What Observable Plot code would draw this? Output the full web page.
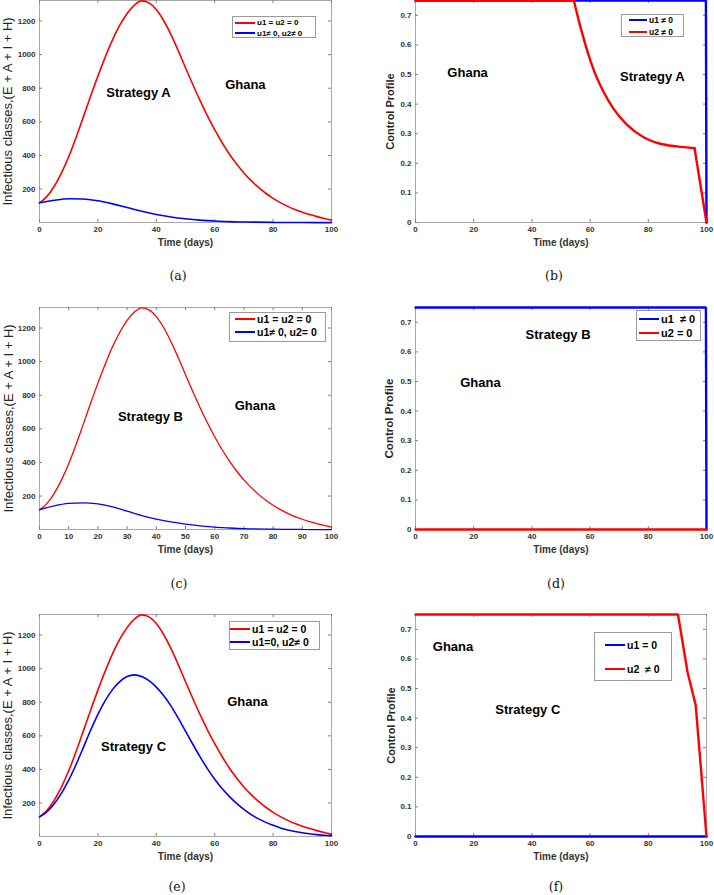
<!DOCTYPE html>
<html><head><meta charset="utf-8">
<script src="https://cdn.jsdelivr.net/npm/d3@7"></script>
<script src="https://cdn.jsdelivr.net/npm/@observablehq/plot@0.6"></script>
<style>
body{margin:0;background:#fff;width:714px;height:895px;position:relative;overflow:hidden;font-family:"Liberation Sans",Arial,sans-serif}
.panel{position:absolute}
.legend{position:absolute;border:1px solid #9a9a9a;background:#fff;box-sizing:border-box;font-weight:bold;color:#000}
.row{position:absolute;display:flex;align-items:center;white-space:pre}
.cap{position:absolute;font-family:"DejaVu Serif","Liberation Serif",serif;font-size:12.5px;transform:translate(-50%,-50%);color:#111}
</style>
</head><body>
<script>
// ---------- data ----------
const timeNoControl = [0,2.5,5,7.5,10,12.5,15,17.5,20,22.5,25,27.5,30,32.5,35,37.5,40,42.5,45,47.5,50,52.5,55,57.5,60,62.5,65,67.5,70,72.5,75,77.5,80,82.5,85,87.5,90,92.5,95,97.5,100];
const infNoControl  = [118,155,215,295,392,505,628,752,872,985,1088,1175,1245,1295,1320,1308,1268,1203,1120,1024,922,822,726,636,553,477,409,349,296,250,210,175,145,119,97,78,62,48,36,25,15];

const timeStratA = [0,5,10,15,20,25,30,35,40,45,50,55,60,65,70,80,90,100];
const infStratA  = [118,133,142,141,130,112,90,68,49,34,23,15,10,6,4,1.5,0.6,0.3];

const timeStratB = [0,5,10,15,20,25,30,35,40,45,50,55,60,65,70,80,90,100];
const infStratB  = [118,141,156,160,153,136,110,84,63,46,33,23,15,10,6,3,1.2,0.5];

const timeStratC = [0,2.5,5,7.5,10,12.5,15,17.5,20,22.5,25,27.5,30,32.5,35,37.5,40,42.5,45,47.5,50,52.5,55,57.5,60,62.5,65,67.5,70,72.5,75,77.5,80,82.5,85,87.5,90,92.5,95,97.5,100];
const infStratC  = [118,148,195,258,336,428,530,633,728,810,875,923,953,963,953,928,890,840,778,705,628,550,475,405,342,287,240,198,162,131,106,85,68,52,40,31,23,17,12,8,6];

// control profiles
const timeU1A = [0,99.8,100];
const u1A     = [0.75,0.75,0];
const timeU2A = [0,54.4,56.7,59,61.3,64.7,68.2,72.7,78.4,84.1,89.9,95.9,100];
const u2A     = [0.75,0.75,0.66,0.581,0.514,0.44,0.382,0.33,0.288,0.266,0.257,0.251,0];

const timeU1B = [0,99.8,100];
const u1B     = [0.75,0.75,0];
const timeU2B = [0,100];
const u2B     = [0,0];

const timeU1C = [0,100];
const u1C     = [0,0];
const timeU2C = [0,90.2,93.5,96.3,100];
const u2C     = [0.75,0.75,0.555,0.443,0];

const xTicks20 = [0,20,40,60,80,100];
const xTicks10 = [0,10,20,30,40,50,60,70,80,90,100];
const yTicksInf = [200,400,600,800,1000,1200];
const yTicksCtl = [0,0.1,0.2,0.3,0.4,0.5,0.6,0.7];

const notesA = [{x:33.9,y:771,text:"Strategy A"},{x:70.5,y:819,text:"Ghana"}];
const notesB = [{x:17.9,y:0.507,text:"Ghana"},{x:81.4,y:0.493,text:"Strategy A"}];
const notesC = [{x:38,y:673,text:"Strategy B"},{x:73.8,y:738,text:"Ghana"}];
const notesD = [{x:49,y:0.659,text:"Strategy B"},{x:22.3,y:0.497,text:"Ghana"}];
const notesE = [{x:32.2,y:533,text:"Strategy C"},{x:71.2,y:803,text:"Ghana"}];
const notesF = [{x:12.9,y:0.642,text:"Ghana"},{x:38.6,y:0.429,text:"Strategy C"}];

const RED = "#ff0000", BLUE = "#0000ff";
const H = 222, MT = 6, MB = 34, W = 357;

function toRows(t, v){ return t.map((d,i)=>({t:d, v:v[i]})); }

function makePanel(o){
  const ml = o.left === 0 ? 39 : 58;
  const mr = o.left === 0 ? 26 : 8;
  const fw = W - ml - mr;
  const marks = [
    Plot.frame({stroke:"#a8a8a8"}),
    Plot.tickX(o.xTicks, {x:d=>d, insetTop:H-3, stroke:"#808080"}),
    Plot.tickX(o.xTicks, {x:d=>d, insetBottom:H-3, stroke:"#808080"}),
    Plot.tickY(o.yTicks, {y:d=>d, insetRight:fw-3, stroke:"#808080"}),
    Plot.tickY(o.yTicks, {y:d=>d, insetLeft:fw-3, stroke:"#808080"}),
    Plot.axisX({ticks:o.xTicks, tickSize:0, tickPadding:4, fontSize:8, fontWeight:"bold", fill:"#333", label:null, tickFormat:d=>String(d)}),
    Plot.axisY({ticks:o.yTicks, tickSize:0, tickPadding:4, fontSize:8, fontWeight:"bold", fill:"#333", label:null, tickFormat:d=>String(d)}),
  ];
  for (const s of o.series) {
    const rows = toRows(s.t, s.v);
    if (s.smoothRange) {
      const [a, b] = s.smoothRange;
      const parts = [rows.filter(r=>r.t<=a), rows.filter(r=>r.t>=a && r.t<=b), rows.filter(r=>r.t>=b)];
      parts.forEach((p, k) => marks.push(Plot.line(p, {x:"t", y:"v", stroke:s.color, strokeWidth:s.width, curve: k===1 ? "monotone-x" : "linear", strokeLinejoin:"miter"})));
    } else {
      marks.push(Plot.line(rows, {x:"t", y:"v", stroke:s.color, strokeWidth:s.width, curve:s.curve || "linear", strokeLinejoin:"miter"}));
    }
  }
  marks.push(Plot.text(o.notes, {x:"x", y:"y", text:"text", fontSize:13, fontWeight:"bold", fill:"#000"}));
  marks.push(Plot.text(["Time (days)"], {text:d=>d, frameAnchor:"bottom", lineAnchor:"middle", textAnchor:"middle", dy:20, fontSize:10, fontWeight:"bold", fill:"#333"}));
  marks.push(Plot.text([o.ylabel], {text:d=>d, frameAnchor:"left", lineAnchor:"middle", textAnchor:"middle", rotate:-90, dx:o.ylabelDx, fontSize:o.ylabelSize, fontWeight:o.ylabelWeight, fill:"#262626"}));
  const svg = Plot.plot({
    width:W, height:H+MT+MB, marginTop:MT, marginBottom:MB, marginLeft:ml, marginRight:mr,
    x:{domain:[0,100]}, y:{domain:o.yDomain},
    style:{fontFamily:"'Liberation Sans', Arial, sans-serif", background:"transparent", overflow:"visible"},
    marks
  });
  const div = document.createElement("div");
  div.className = "panel";
  div.style.left = o.left + "px";
  div.style.top = (o.frameTop - MT) + "px";
  div.appendChild(svg);
  document.body.appendChild(div);
}

function makeLegend(L){
  const box = document.createElement("div");
  box.className = "legend";
  Object.assign(box.style, {left:L.x+"px", top:L.y+"px", width:L.w+"px", height:L.h+"px", fontSize:L.fs+"px"});
  for (const r of L.rows) {
    const row = document.createElement("div");
    row.className = "row";
    const rh = L.fs*1.3;
    row.style.left = (L.lx1 - L.x - 1) + "px";
    row.style.top = (r.y - L.y - 1 - rh/2) + "px";
    row.style.height = rh + "px";
    const line = document.createElement("span");
    Object.assign(line.style, {display:"inline-block", width:(L.lx2-L.lx1)+"px", height:L.lw+"px", background:r.color});
    const txt = document.createElement("span");
    txt.textContent = r.text;
    txt.style.marginLeft = "2px";
    row.appendChild(line); row.appendChild(txt);
    box.appendChild(row);
  }
  document.body.appendChild(box);
}

function caption(text, x, y){
  const c = document.createElement("div");
  c.className = "cap"; c.textContent = text;
  c.style.left = x+"px"; c.style.top = y+"px";
  document.body.appendChild(c);
}

const infLabel = "Infectious classes,(E + A + I + H)";
const ctlLabel = "Control Profile";
const smooth = "monotone-x";

makePanel({left:0, frameTop:0, xTicks:xTicks20, yTicks:yTicksInf, yDomain:[1,1322], notes:notesA,
  ylabel:infLabel, ylabelDx:-31.5, ylabelSize:13, ylabelWeight:"normal",
  series:[{t:timeNoControl, v:infNoControl, color:RED, width:1.6, curve:smooth},
          {t:timeStratA, v:infStratA, color:BLUE, width:1.6, curve:smooth}]});
makePanel({left:357, frameTop:0, xTicks:xTicks20, yTicks:yTicksCtl, yDomain:[0,0.75], notes:notesB,
  ylabel:ctlLabel, ylabelDx:-25, ylabelSize:11, ylabelWeight:"bold",
  series:[{t:timeU1A, v:u1A, color:BLUE, width:2.4},
          {t:timeU2A, v:u2A, color:RED, width:2.4, smoothRange:[54.4, 95.9]}]});
makePanel({left:0, frameTop:307, xTicks:xTicks10, yTicks:yTicksInf, yDomain:[1,1322], notes:notesC,
  ylabel:infLabel, ylabelDx:-31, ylabelSize:13, ylabelWeight:"normal",
  series:[{t:timeNoControl, v:infNoControl, color:RED, width:1.3, curve:smooth},
          {t:timeStratB, v:infStratB, color:BLUE, width:1.3, curve:smooth}]});
makePanel({left:357, frameTop:307, xTicks:xTicks20, yTicks:yTicksCtl, yDomain:[0,0.75], notes:notesD,
  ylabel:ctlLabel, ylabelDx:-26, ylabelSize:11.5, ylabelWeight:"bold",
  series:[{t:timeU1B, v:u1B, color:BLUE, width:2.4},
          {t:timeU2B, v:u2B, color:RED, width:2.4}]});
makePanel({left:0, frameTop:614, xTicks:xTicks20, yTicks:yTicksInf, yDomain:[1,1322], notes:notesE,
  ylabel:infLabel, ylabelDx:-31.5, ylabelSize:13, ylabelWeight:"normal",
  series:[{t:timeNoControl, v:infNoControl, color:RED, width:1.6, curve:smooth},
          {t:timeStratC, v:infStratC, color:BLUE, width:1.6, curve:smooth}]});
makePanel({left:357, frameTop:614, xTicks:xTicks20, yTicks:yTicksCtl, yDomain:[0,0.75], notes:notesF,
  ylabel:ctlLabel, ylabelDx:-24.5, ylabelSize:11, ylabelWeight:"bold",
  series:[{t:timeU1C, v:u1C, color:BLUE, width:2.4},
          {t:timeU2C, v:u2C, color:RED, width:2.4}]});

makeLegend({x:232, y:16, w:84, h:22, fs:8, lw:2, lx1:235, lx2:255,
  rows:[{y:22.7, color:RED, text:"u1 = u2 = 0"},{y:33.3, color:BLUE, text:"u1\u2260 0, u2\u2260 0"}]});
makeLegend({x:621, y:14, w:63, h:23, fs:8.5, lw:2.4, lx1:629, lx2:647,
  rows:[{y:20, color:BLUE, text:"u1 \u2260 0"},{y:32, color:RED, text:"u2 \u2260 0"}]});
makeLegend({x:229, y:312, w:97, h:30, fs:10.5, lw:1.6, lx1:235, lx2:255,
  rows:[{y:319, color:RED, text:"u1 = u2 = 0"},{y:332, color:BLUE, text:"u1\u2260 0, u2= 0"}]});
makeLegend({x:636, y:310, w:65, h:31, fs:11, lw:2.4, lx1:639, lx2:659,
  rows:[{y:319, color:BLUE, text:"u1  \u2260 0"},{y:333, color:RED, text:"u2 = 0"}]});
makeLegend({x:229, y:621, w:91, h:29, fs:10.5, lw:1.6, lx1:230, lx2:250,
  rows:[{y:629, color:RED, text:"u1 = u2 = 0"},{y:642, color:BLUE, text:"u1=0, u2\u2260 0"}]});
makeLegend({x:594, y:632, w:78, h:49, fs:10.5, lw:2.4, lx1:605, lx2:625,
  rows:[{y:645, color:BLUE, text:"u1 = 0"},{y:669, color:RED, text:"u2  \u2260 0"}]});

caption("(a)", 178, 275);
caption("(b)", 554, 275);
caption("(c)", 179, 583);
caption("(d)", 556, 583);
caption("(e)", 177, 886);
caption("(f)", 556, 886);
</script>
</body></html>
